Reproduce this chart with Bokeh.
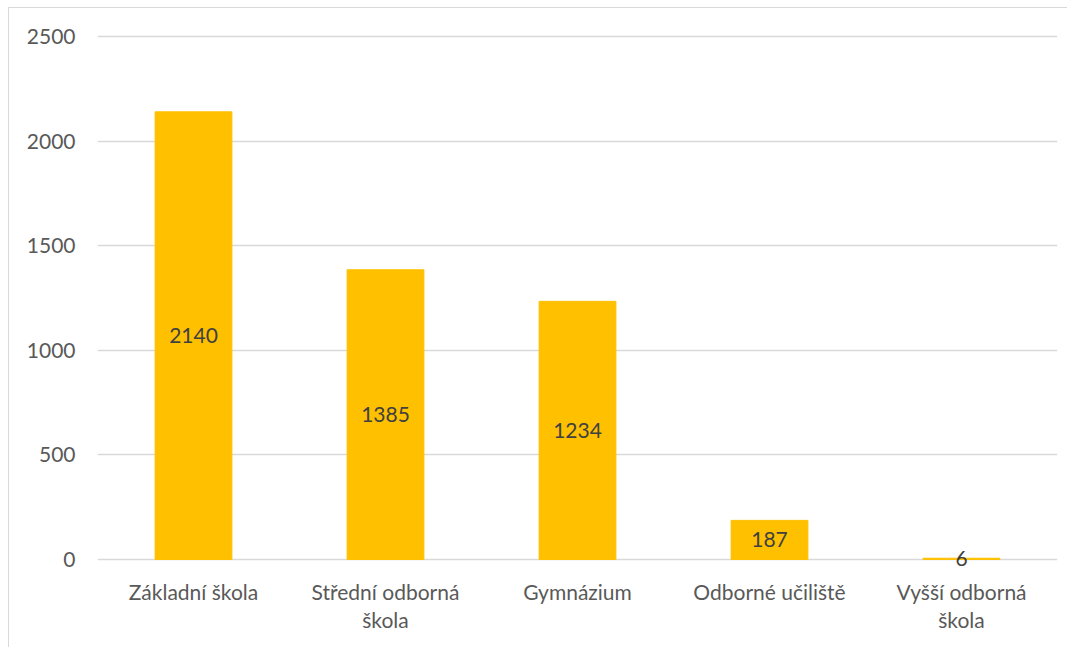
from bokeh.plotting import figure
from bokeh.models import ColumnDataSource, FixedTicker, Range1d
from bokeh.core.properties import value
from bokeh.embed import file_html
from bokeh.resources import INLINE

categories = ["Základní škola", "Střední odborná\nškola", "Gymnázium", "Odborné učiliště", "Vyšší odborná\nškola"]
counts = [2140, 1385, 1234, 187, 6]
y_ticks = [0, 500, 1000, 1500, 2000, 2500]

FONT = "Lato"
xs = list(range(len(categories)))
src = ColumnDataSource(dict(x=xs, top=counts, mid=[c / 2 for c in counts], lab=[str(c) for c in counts]))

p = figure(width=1059, height=640, output_backend="svg", toolbar_location=None,
           x_range=Range1d(-0.5, len(categories) - 0.5), y_range=Range1d(-66.9, 2509.6),
           min_border_left=88, min_border_right=11, min_border_top=26, min_border_bottom=75)
p.styles = {"border-left": "1px solid #d9d9d9", "border-top": "1px solid #d9d9d9",
            "margin-left": "8px", "margin-top": "7px"}
p.outline_line_color = None
p.background_fill_color = "white"
p.border_fill_color = "white"

p.vbar(x="x", top="top", bottom=0, width=0.4, source=src, color="#FFC000", line_color="#FFC000")
p.text(x="x", y="mid", text="lab", source=src, text_align="center", text_baseline="middle",
       text_font=value(FONT), text_font_size="21px", text_color="#404040")

p.xgrid.visible = False
p.ygrid.grid_line_color = "#d9d9d9"
p.ygrid.grid_line_width = 1.5
p.yaxis.ticker = FixedTicker(ticks=y_ticks)
p.xaxis.ticker = FixedTicker(ticks=xs)
p.xaxis.major_label_overrides = {i: c for i, c in enumerate(categories)}
for ax in (p.xaxis, p.yaxis):
    ax.axis_line_color = None
    ax.major_tick_line_color = None
    ax.minor_tick_line_color = None
    ax.major_tick_out = 0
    ax.major_tick_in = 0
    ax.minor_tick_out = 0
    ax.major_label_text_font = FONT
    ax.major_label_text_font_size = "21px"
    ax.major_label_text_color = "#595959"
p.xaxis.major_label_text_line_height = 1.15
p.yaxis.major_label_standoff = 22
p.xaxis.major_label_standoff = 5

open("out.html", "w").write(file_html(p, INLINE))
